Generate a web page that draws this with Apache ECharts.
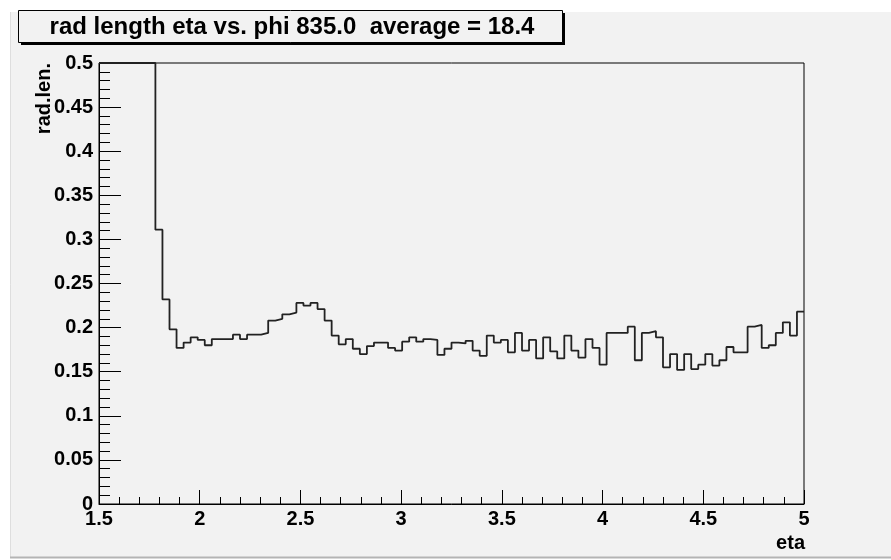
<!DOCTYPE html>
<html>
<head>
<meta charset="utf-8">
<script src="https://cdn.jsdelivr.net/npm/echarts@6/dist/echarts.min.js"></script>
<style>
  html, body { margin: 0; padding: 0; background: #ffffff; }
  #chart { width: 891px; height: 560px; }
</style>
</head>
<body>
<div id="chart"></div>
<script>
// Histogram binning along eta
const binLow = 1.5;
const binWidth = 0.035;

// Radiation length per eta bin (bins 0-7 are off scale, drawn at the top edge)
const radLen = [
  0.5, 0.5, 0.5, 0.5, 0.5, 0.5, 0.5, 0.5, 0.311, 0.232,
  0.198, 0.177, 0.183, 0.189, 0.186, 0.180, 0.187, 0.187, 0.187, 0.192,
  0.187, 0.192, 0.192, 0.194, 0.208, 0.210, 0.215, 0.217, 0.228, 0.225,
  0.228, 0.221, 0.208, 0.191, 0.181, 0.187, 0.176, 0.170, 0.179, 0.183,
  0.183, 0.177, 0.174, 0.184, 0.189, 0.184, 0.187, 0.186, 0.169, 0.176,
  0.183, 0.182, 0.185, 0.174, 0.168, 0.191, 0.183, 0.186, 0.172, 0.194,
  0.174, 0.186, 0.165, 0.189, 0.173, 0.165, 0.191, 0.174, 0.166, 0.187,
  0.177, 0.158, 0.194, 0.194, 0.194, 0.201, 0.163, 0.194, 0.196, 0.189,
  0.155, 0.170, 0.152, 0.170, 0.153, 0.158, 0.170, 0.157, 0.163, 0.178,
  0.172, 0.172, 0.201, 0.203, 0.177, 0.180, 0.194, 0.206, 0.191, 0.218
];

const titleText = 'rad length eta vs. phi 835.0  average = 18.4';
const xName = 'eta';
const yName = 'rad.len.';

// Step points at the lower edge of each bin, plus the closing edge
const points = radLen.map((v, k) => [binLow + k * binWidth, v]);
points.push([binLow + radLen.length * binWidth, radLen[radLen.length - 1]]);

const FONT = '"Liberation Sans", Arial, Helvetica, sans-serif';
const panelGray = '#f2f2f2';

const chart = echarts.init(document.getElementById('chart'), null, { renderer: 'canvas' });

chart.setOption({
  animation: false,
  backgroundColor: '#ffffff',
  grid: {
    left: 99, right: 87, top: 63, bottom: 56,
    show: true,
    backgroundColor: panelGray,
    borderColor: '#000000',
    borderWidth: 1,
    containLabel: false
  },
  xAxis: {
    type: 'value',
    min: 1.5, max: 5, interval: 0.5,
    axisLine: { show: true, onZero: false, lineStyle: { color: '#000', width: 1 } },
    axisTick: { show: true, inside: true, length: 14, lineStyle: { color: '#000', width: 1 } },
    minorTick: { show: true, splitNumber: 5, length: 7, lineStyle: { color: '#000', width: 1 } },
    splitLine: { show: false },
    axisLabel: {
      margin: 5,
      color: '#000',
      fontFamily: FONT,
      fontWeight: 'bold',
      fontSize: 20,
      formatter: v => String(+v.toFixed(2))
    }
  },
  yAxis: {
    type: 'value',
    min: 0, max: 0.5, interval: 0.05,
    axisLine: { show: true, onZero: false, lineStyle: { color: '#000', width: 1 } },
    axisTick: { show: true, inside: true, length: 22, lineStyle: { color: '#000', width: 1 } },
    minorTick: { show: true, splitNumber: 5, length: 11, lineStyle: { color: '#000', width: 1 } },
    splitLine: { show: false },
    axisLabel: {
      margin: 6,
      color: '#000',
      fontFamily: FONT,
      fontWeight: 'bold',
      fontSize: 20,
      formatter: v => String(+v.toFixed(2))
    }
  },
  series: [{
    type: 'line',
    step: 'end',
    data: points,
    symbol: 'none',
    clip: true,
    lineStyle: { color: '#222222', width: 1.8 },
    z: 3
  }],
  graphic: [
    // pad background
    { type: 'rect', z: -10, silent: true,
      shape: { x: 10, y: 12, width: 881, height: 545 },
      style: { fill: panelGray } },
    { type: 'line', z: -9, silent: true,
      shape: { x1: 10.5, y1: 12, x2: 10.5, y2: 557 },
      style: { stroke: '#dedede', lineWidth: 1 } },
    { type: 'line', z: -9, silent: true,
      shape: { x1: 10, y1: 557.5, x2: 891, y2: 557.5 },
      style: { stroke: '#b4b4b4', lineWidth: 2 } },
    // title box with shadow
    { type: 'rect', z: 20, silent: true,
      shape: { x: 21, y: 13, width: 544, height: 32 },
      style: { fill: '#000000' } },
    { type: 'rect', z: 21, silent: true,
      shape: { x: 18.5, y: 10.5, width: 544, height: 32 },
      style: { fill: panelGray, stroke: '#000000', lineWidth: 1 } },
    { type: 'text', z: 22, silent: true,
      x: 292, y: 27,
      style: {
        text: titleText,
        fill: '#000',
        font: 'bold 24px ' + FONT,
        textAlign: 'center',
        textVerticalAlign: 'middle'
      } },
    // axis titles
    { type: 'text', z: 22, silent: true,
      x: 44, y: 63, rotation: Math.PI / 2,
      style: {
        text: yName,
        fill: '#000',
        font: 'bold 20px ' + FONT,
        textAlign: 'right',
        textVerticalAlign: 'middle'
      } },
    { type: 'text', z: 22, silent: true,
      x: 805, y: 543,
      style: {
        text: xName,
        fill: '#000',
        font: 'bold 20px ' + FONT,
        textAlign: 'right',
        textVerticalAlign: 'middle'
      } }
  ]
});
</script>
</body>
</html>
